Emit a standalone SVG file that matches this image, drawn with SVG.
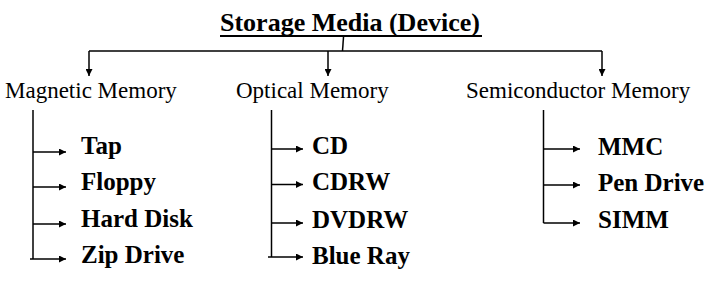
<svg xmlns="http://www.w3.org/2000/svg" width="712" height="281" viewBox="0 0 712 281">
<defs>
<style>
.t{font-family:"Liberation Serif","Times New Roman",serif;fill:#000}
.title{font-size:26px;font-weight:bold}
.cat{font-size:23px}
.item{font-size:25px;font-weight:bold}
.ln{stroke:#000;stroke-width:1.5;fill:none}
</style>
<marker id="ah" viewBox="0 0 10 10" refX="10" refY="5" markerWidth="9" markerHeight="7" markerUnits="userSpaceOnUse" orient="auto">
<path d="M0,0 L10,5 L0,10 z" fill="#000"/>
</marker>
</defs>
<rect width="712" height="281" fill="#fff"/>
<g id="root">
<text class="t title" x="220" y="31">Storage Media (Device)</text>
<line x1="220" y1="36" x2="482" y2="36" stroke="#000" stroke-width="2"/>
</g>
<g id="magnetic"><text class="t cat" x="5" y="97.5">Magnetic Memory</text></g>
<g id="optical"><text class="t cat" x="236" y="97.5">Optical Memory</text></g>
<g id="semiconductor"><text class="t cat" x="466" y="97.5">Semiconductor Memory</text></g>
<g id="tap"><text class="t item" x="81" y="154">Tap</text></g>
<g id="floppy"><text class="t item" x="81" y="190">Floppy</text></g>
<g id="harddisk"><text class="t item" x="81" y="227">Hard Disk</text></g>
<g id="zipdrive"><text class="t item" x="81" y="263">Zip Drive</text></g>
<g id="cd"><text class="t item" x="312" y="154">CD</text></g>
<g id="cdrw"><text class="t item" x="312" y="190">CDRW</text></g>
<g id="dvdrw"><text class="t item" x="312" y="228">DVDRW</text></g>
<g id="blueray"><text class="t item" x="312" y="264">Blue Ray</text></g>
<g id="mmc"><text class="t item" x="598" y="155">MMC</text></g>
<g id="pendrive"><text class="t item" x="598" y="191">Pen Drive</text></g>
<g id="simm"><text class="t item" x="598" y="228">SIMM</text></g>
<g id="connectors">
<line class="ln" x1="343.5" y1="37" x2="342.5" y2="51"/>
<line class="ln" x1="89" y1="51" x2="602" y2="51"/>
<line class="ln" x1="89" y1="51" x2="89" y2="76" marker-end="url(#ah)"/>
<line class="ln" x1="328" y1="51" x2="328" y2="76" marker-end="url(#ah)"/>
<line class="ln" x1="602" y1="51" x2="602" y2="76" marker-end="url(#ah)"/>
<line class="ln" x1="33" y1="110" x2="33" y2="259"/>
<line class="ln" x1="33" y1="152" x2="66" y2="152" marker-end="url(#ah)"/>
<line class="ln" x1="33" y1="187" x2="66" y2="187" marker-end="url(#ah)"/>
<line class="ln" x1="33" y1="224" x2="66" y2="224" marker-end="url(#ah)"/>
<line class="ln" x1="30" y1="259" x2="66" y2="259" marker-end="url(#ah)"/>
<line class="ln" x1="271.5" y1="110" x2="271.5" y2="257"/>
<line class="ln" x1="271.5" y1="149" x2="303" y2="149" marker-end="url(#ah)"/>
<line class="ln" x1="271.5" y1="184.5" x2="303" y2="184.5" marker-end="url(#ah)"/>
<line class="ln" x1="271.5" y1="223" x2="303" y2="223" marker-end="url(#ah)"/>
<line class="ln" x1="268" y1="257" x2="303" y2="257" marker-end="url(#ah)"/>
<line class="ln" x1="543.5" y1="110" x2="543.5" y2="223"/>
<line class="ln" x1="543.5" y1="149" x2="580" y2="149" marker-end="url(#ah)"/>
<line class="ln" x1="543.5" y1="185" x2="580" y2="185" marker-end="url(#ah)"/>
<line class="ln" x1="543.5" y1="223" x2="580" y2="223" marker-end="url(#ah)"/>
</g>
</svg>
